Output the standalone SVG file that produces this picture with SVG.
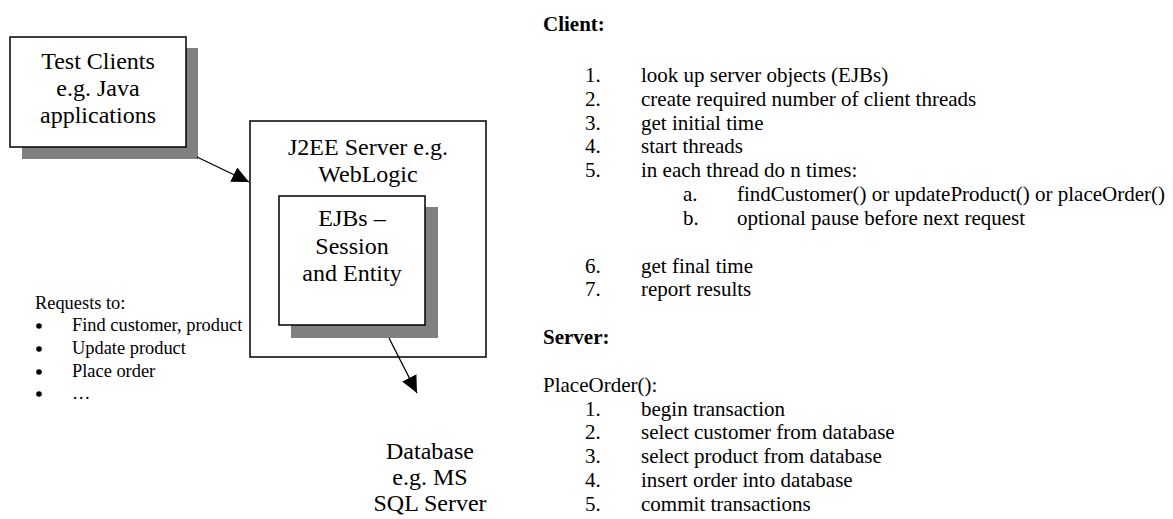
<svg xmlns="http://www.w3.org/2000/svg" width="1173" height="519" viewBox="0 0 1173 519">
  <style>
    text { font-family: "Liberation Serif", "Times New Roman", serif; fill: #000; }
    .box { fill: #fff; stroke: #000; stroke-width: 1.5; }
    .shadow { fill: #808080; }
    .big { font-size: 24px; text-anchor: middle; }
    .note { font-size: 18.4px; }
    .list { font-size: 21px; }
    .head { font-size: 21px; font-weight: bold; }
    .bullet { fill: #000; }
    .conn { stroke: #000; stroke-width: 1.3; fill: none; marker-end: url(#arrow); }
  </style>
  <defs>
    <marker id="arrow" markerUnits="userSpaceOnUse" markerWidth="18" markerHeight="16" refX="17" refY="8" orient="auto">
      <path d="M0,0 L17,8 L0,16 z" fill="#000"/>
    </marker>
  </defs>

  <!-- Test clients -->
  <g id="test-clients">
    <rect class="shadow" x="22" y="48" width="176" height="111"/>
    <rect class="box" x="10" y="37" width="176" height="110"/>
    <text class="big" x="98" y="69">Test Clients</text>
    <text class="big" x="98" y="96">e.g. Java</text>
    <text class="big" x="98" y="123">applications</text>
  </g>

  <!-- Application server containing the EJBs -->
  <g id="j2ee-server">
    <rect class="box" x="250" y="121" width="236" height="236"/>
    <text class="big" x="368" y="155">J2EE Server e.g.</text>
    <text class="big" x="368" y="182">WebLogic</text>
  </g>

  <g id="ejbs">
    <rect class="shadow" x="291" y="207" width="147" height="131"/>
    <rect class="box" x="279" y="196" width="146" height="129"/>
    <text class="big" x="352" y="226">EJBs –</text>
    <text class="big" x="352" y="254">Session</text>
    <text class="big" x="352" y="281">and Entity</text>
  </g>

  <!-- Database -->
  <g id="database">
    <text class="big" x="430" y="459">Database</text>
    <text class="big" x="430" y="485">e.g. MS</text>
    <text class="big" x="430" y="511">SQL Server</text>
  </g>

  <!-- Request types -->
  <g id="requests" class="note">
    <text x="35" y="309">Requests to:</text>
    <circle class="bullet" cx="39" cy="326" r="2.8"/><text x="72" y="331">Find customer, product</text>
    <circle class="bullet" cx="39" cy="349" r="2.8"/><text x="72" y="354">Update product</text>
    <circle class="bullet" cx="39" cy="372" r="2.8"/><text x="72" y="377">Place order</text>
    <circle class="bullet" cx="39" cy="394" r="2.8"/><text x="72" y="399">…</text>
  </g>

  <!-- Connectors -->
  <g id="connectors">
    <line class="conn" x1="197" y1="157" x2="249" y2="182"/>
    <line class="conn" x1="389" y1="338" x2="417" y2="393"/>
  </g>

  <!-- Client steps -->
  <g id="client-steps" class="list">
    <text class="head" x="543" y="31">Client:</text>
    <text x="585" y="82">1.</text><text x="641" y="82">look up server objects (EJBs)</text>
    <text x="585" y="106">2.</text><text x="641" y="106">create required number of client threads</text>
    <text x="585" y="130">3.</text><text x="641" y="130">get initial time</text>
    <text x="585" y="153">4.</text><text x="641" y="153">start threads</text>
    <text x="585" y="177">5.</text><text x="641" y="177">in each thread do n times:</text>
    <text x="683" y="201">a.</text><text x="737" y="201">findCustomer() or updateProduct() or placeOrder()</text>
    <text x="683" y="225">b.</text><text x="737" y="225">optional pause before next request</text>
    <text x="585" y="273">6.</text><text x="641" y="273">get final time</text>
    <text x="585" y="296">7.</text><text x="641" y="296">report results</text>
  </g>

  <!-- Server steps -->
  <g id="server-steps" class="list">
    <text class="head" x="543" y="344">Server:</text>
    <text x="543" y="392">PlaceOrder():</text>
    <text x="585" y="416">1.</text><text x="641" y="416">begin transaction</text>
    <text x="585" y="439">2.</text><text x="641" y="439">select customer from database</text>
    <text x="585" y="463">3.</text><text x="641" y="463">select product from database</text>
    <text x="585" y="487">4.</text><text x="641" y="487">insert order into database</text>
    <text x="585" y="511">5.</text><text x="641" y="511">commit transactions</text>
  </g>
</svg>
